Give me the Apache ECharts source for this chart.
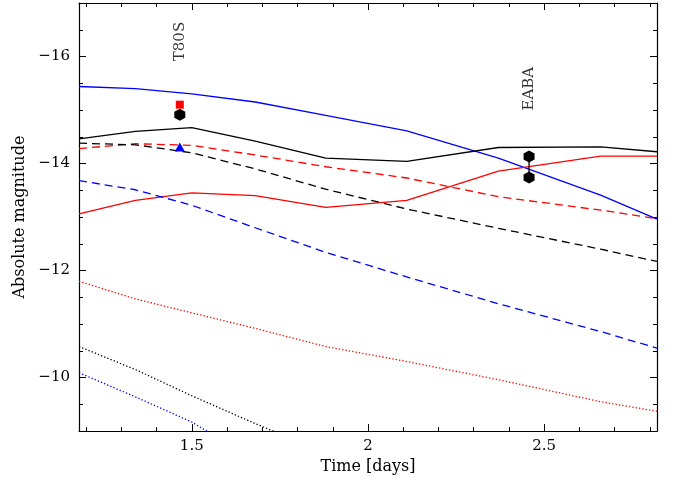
<!DOCTYPE html>
<html>
<head>
    <meta charset="utf-8">
    <script src="https://cdn.jsdelivr.net/npm/echarts@6/dist/echarts.min.js"></script>
    <style>
        html, body { margin: 0; padding: 0; background: #fff; }
        #main { width: 676px; height: 480px; }
    </style>
</head>
<body>
<div id="main"></div>
<script type="text/javascript">
    // model times (days)
    var times = [1.18, 1.34, 1.50, 1.68, 1.88, 2.11, 2.37, 2.66, 2.82];

    var blueSolid  = [-15.44, -15.40, -15.30, -15.15, -14.90, -14.61, -14.10, -13.41, -12.96];
    var blackSolid = [-14.46, -14.60, -14.67, -14.42, -14.10, -14.04, -14.30, -14.31, -14.22];
    var redSolid   = [-13.06, -13.31, -13.45, -13.40, -13.18, -13.31, -13.86, -14.14, -14.14];

    var redDashed   = [-14.28, -14.37, -14.34, -14.16, -13.94, -13.73, -13.38, -13.13, -12.97];
    var blackDashed = [-14.38, -14.35, -14.20, -13.90, -13.52, -13.15, -12.79, -12.40, -12.17];
    var blueDashed  = [-13.68, -13.51, -13.22, -12.80, -12.34, -11.88, -11.38, -10.86, -10.55];

    var redDotted   = [-11.80, -11.47, -11.21, -10.92, -10.58, -10.30, -9.96, -9.55, -9.37];
    var blackDotted = [-10.58, -10.15, -9.66, -9.14, -8.60];
    var blueDotted  = [-10.09, -9.64, -9.17, -8.45];

    // observations
    var t80sTime = 1.466;
    var t80sRed = -15.10;     // square
    var t80sBlack = -14.91;   // hexagon
    var t80sBlue = -14.31;    // triangle
    var eabaTime = 2.457;
    var eabaBlack = [-14.13, -13.74];

    // axis ticks
    var xMinorTicks = [1.2, 1.3, 1.4, 1.5, 1.6, 1.7, 1.8, 1.9, 2.0, 2.1, 2.2, 2.3, 2.4, 2.5, 2.6, 2.7, 2.8];
    var xLabels = [1.5, 2, 2.5];
    var yMinorTicks = [-16.5, -16, -15.5, -15, -14.5, -14, -13.5, -13, -12.5, -12, -11.5, -11, -10.5, -10, -9.5];
    var yLabels = [-16, -14, -12, -10];

    var hexagon = 'path://M0,-1L0.866,-0.5L0.866,0.5L0,1L-0.866,0.5L-0.866,-0.5Z';
    var font = 'DejaVu Serif';

    function pairs(vals) {
        return vals.map(function (v, i) { return [times[i], v]; });
    }

    function modelLine(vals, color, dash) {
        return {
            type: 'line',
            data: pairs(vals),
            symbol: 'none',
            clip: true,
            lineStyle: { color: color, width: 1.3, type: dash },
            z: 2
        };
    }

    var dashed = [8, 5];
    var dotted = [1.3, 2.1];

    function xAxisDef(pos, ticks, len, line, labels) {
        return {
            type: 'value', position: pos, min: 1.18, max: 2.82,
            axisLine: { show: line, onZero: false, lineStyle: { color: '#000', width: 1.2 } },
            axisTick: { show: true, inside: true, length: len, customValues: ticks, lineStyle: { color: '#000', width: 1 } },
            axisLabel: labels ? { customValues: labels, color: '#000', fontFamily: font, fontSize: 15, margin: 8 } : { show: false },
            splitLine: { show: false }
        };
    }

    function yAxisDef(pos, ticks, len, line, labels) {
        return {
            type: 'value', position: pos, min: -17, max: -9, inverse: true,
            axisLine: { show: line, onZero: false, lineStyle: { color: '#000', width: 1.2 } },
            axisTick: { show: true, inside: true, length: len, customValues: ticks, lineStyle: { color: '#000', width: 1 } },
            axisLabel: labels ? {
                customValues: labels, color: '#000', fontFamily: font, fontSize: 15, margin: 9,
                formatter: function (v) { return '\u2212' + Math.abs(v); }
            } : { show: false },
            splitLine: { show: false }
        };
    }

    var xBottom = xAxisDef('bottom', xMinorTicks, 4, true, xLabels);
    xBottom.name = 'Time [days]';
    xBottom.nameLocation = 'middle';
    xBottom.nameGap = 23;
    xBottom.nameTextStyle = { color: '#000', fontFamily: font, fontSize: 16, verticalAlign: 'top' };

    var yLeft = yAxisDef('left', yMinorTicks, 4, true, yLabels);
    yLeft.name = 'Absolute magnitude';
    yLeft.nameLocation = 'middle';
    yLeft.nameGap = 48;
    yLeft.nameTextStyle = { color: '#000', fontFamily: font, fontSize: 16 };

    var myChart = echarts.init(document.getElementById('main'), null, { renderer: 'canvas' });
    var option = {
        animation: false,
        backgroundColor: '#fff',
        grid: { left: 79, right: 19, top: 3, bottom: 45, containLabel: false },
        xAxis: [
            xBottom,
            xAxisDef('bottom', xLabels, 7, false, null),
            xAxisDef('top', xMinorTicks, 4, true, null),
            xAxisDef('top', xLabels, 7, false, null)
        ],
        yAxis: [
            yLeft,
            yAxisDef('left', yLabels, 7, false, null),
            yAxisDef('right', yMinorTicks, 4, true, null),
            yAxisDef('right', yLabels, 7, false, null)
        ],
        series: [
            modelLine(blueSolid, '#0000ff', 'solid'),
            modelLine(blackSolid, '#000000', 'solid'),
            modelLine(redSolid, '#ff0000', 'solid'),
            modelLine(redDashed, '#ff0000', dashed),
            modelLine(blackDashed, '#000000', dashed),
            modelLine(blueDashed, '#0000ff', dashed),
            modelLine(redDotted, '#ff0000', dotted),
            modelLine(blackDotted, '#000000', dotted),
            modelLine(blueDotted, '#0000ff', dotted),
            {
                type: 'line',
                data: [[eabaTime, eabaBlack[0]], [eabaTime, eabaBlack[1]]],
                symbol: 'none',
                lineStyle: { color: '#000', width: 1.3 },
                z: 3
            },
            {
                type: 'scatter',
                data: [[t80sTime, t80sRed]],
                symbol: 'rect', symbolSize: 8,
                itemStyle: { color: '#ff0000', opacity: 1 }, z: 4
            },
            {
                type: 'scatter',
                data: [[t80sTime, t80sBlack], [eabaTime, eabaBlack[0]], [eabaTime, eabaBlack[1]]],
                symbol: hexagon, symbolSize: [11, 12],
                itemStyle: { color: '#000', opacity: 1 }, z: 4
            },
            {
                type: 'scatter',
                data: [[t80sTime, t80sBlue]],
                symbol: 'triangle', symbolSize: [10, 9],
                itemStyle: { color: '#0000ff', opacity: 1 }, z: 4
            },
            {
                type: 'scatter',
                data: [
                    { value: [1.466, -16.28], name: 'T80S' },
                    { value: [2.457, -15.40], name: 'EABA' }
                ],
                symbolSize: 0,
                silent: true,
                label: {
                    show: true, position: 'inside', rotate: 90,
                    formatter: '{b}', color: '#000', fontFamily: font, fontSize: 15
                }
            }
        ]
    };
    myChart.setOption(option);
</script>
</body>
</html>
